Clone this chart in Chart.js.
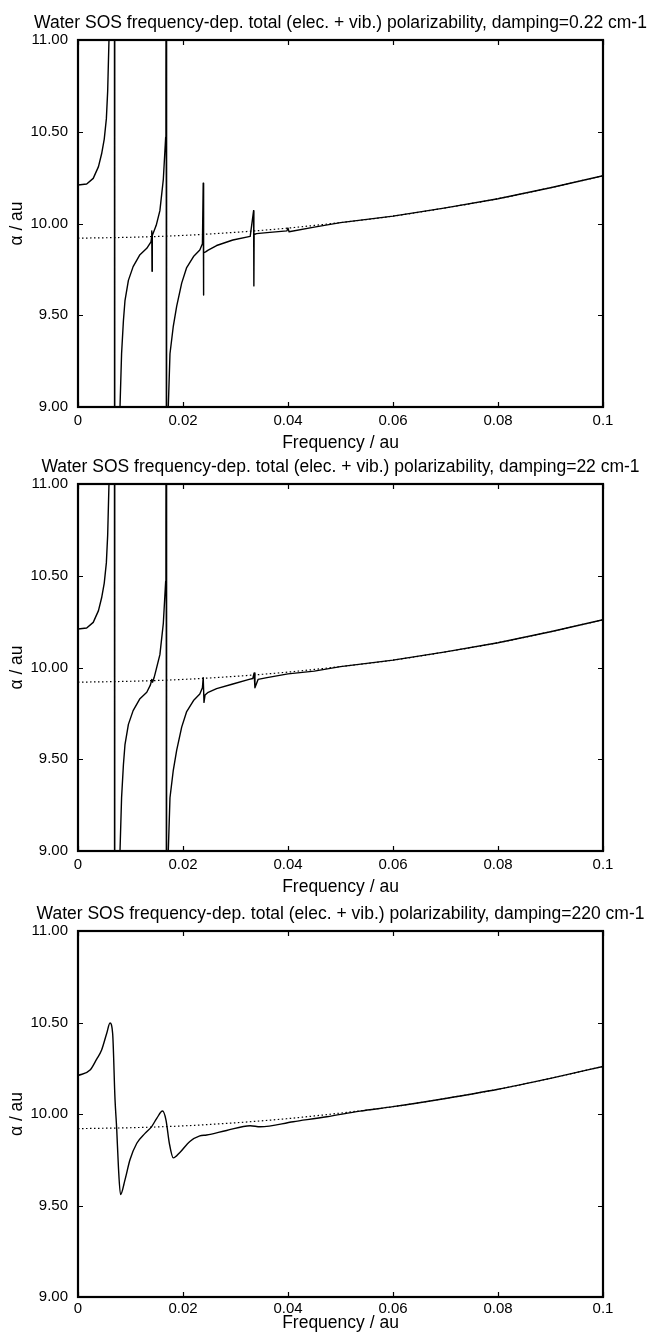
<!DOCTYPE html>
<html>
<head>
<meta charset="utf-8">
<script src="https://cdn.jsdelivr.net/npm/chart.js@4.4.0/dist/chart.umd.min.js"></script>
<style>
  html, body { margin: 0; padding: 0; background: #fff; overflow: hidden; }
  #wrap { position: relative; width: 650px; height: 1336px; }
  canvas { position: absolute; left: 0; }
</style>
</head>
<body>
<div id="wrap">
  <canvas id="p1" width="650" height="454" style="top:0px"></canvas>
  <canvas id="p2" width="650" height="454" style="top:444px"></canvas>
  <canvas id="p3" width="650" height="443" style="top:891px"></canvas>
</div>
<script>
// axis ticks
const xTickValues = [0, 0.02, 0.04, 0.06, 0.08, 0.1];
const xTickLabels = ['0', '0.02', '0.04', '0.06', '0.08', '0.1'];
const yTickValues = [9, 9.5, 10, 10.5, 11];
const yTickLabels = ['9.00', '9.50', '10.00', '10.50', '11.00'];

const titles = [
  'Water SOS frequency-dep. total (elec. + vib.) polarizability, damping=0.22 cm-1',
  'Water SOS frequency-dep. total (elec. + vib.) polarizability, damping=22 cm-1',
  'Water SOS frequency-dep. total (elec. + vib.) polarizability, damping=220 cm-1'
];

// electronic-only polarizability (dotted), same in all panels
const elecFreq  = [0, 0.01, 0.02, 0.03, 0.04, 0.05, 0.06, 0.07, 0.08, 0.09, 0.1];
const elecAlpha = [9.92, 9.925, 9.935, 9.952, 9.975, 10.005, 10.04, 10.085, 10.135, 10.195, 10.26];

// damping 0.22 cm-1 (values beyond 9..11 are where the curve leaves the frame)
const freq1 = [0, 0.00165, 0.0029, 0.0039, 0.0045, 0.0050, 0.0054, 0.00565, 0.0059, 0.0064, 0.00692, 0.0070,
  0.0079, 0.0080, 0.0083, 0.00865, 0.00895, 0.0096, 0.0105, 0.0118, 0.0131, 0.0139, 0.01400, 0.01405,
  0.01410, 0.01415, 0.0149, 0.0156, 0.01625, 0.0167, 0.01675, 0.0168, 0.01685, 0.0169, 0.0171, 0.0172,
  0.01752, 0.01815, 0.0188, 0.01975, 0.0207, 0.0220, 0.0232, 0.0237, 0.02385, 0.0239, 0.02395, 0.0243,
  0.0248, 0.0264, 0.0295, 0.0328, 0.03345, 0.0335, 0.03355, 0.0340, 0.0360, 0.0398, 0.0400, 0.0402,
  0.0450, 0.0500, 0.0600, 0.0700, 0.0800, 0.0900, 0.1000];
const alpha1 = [10.21, 10.215, 10.246, 10.31, 10.38, 10.46, 10.57, 10.72, 11.0, 12.5, 15, 4,
  8.5, 9.0, 9.29, 9.47, 9.58, 9.69, 9.765, 9.83, 9.865, 9.9, 9.92, 9.96,
  9.74, 9.935, 9.99, 10.07, 10.24, 10.47, 10.8, 12, 15, 4, 8.0, 9.0,
  9.29, 9.44, 9.55, 9.675, 9.76, 9.82, 9.855, 9.89, 10.22, 9.61, 9.84, 9.845,
  9.855, 9.88, 9.91, 9.93, 10.07, 9.66, 9.94, 9.945, 9.95, 9.96, 9.975, 9.955,
  9.98, 10.005, 10.04, 10.085, 10.135, 10.195, 10.26];

// damping 22 cm-1
const freq2 = [0, 0.00165, 0.0029, 0.0039, 0.0045, 0.0050, 0.0054, 0.00565, 0.0059, 0.0064, 0.00692, 0.0070,
  0.0079, 0.0080, 0.0083, 0.00865, 0.00895, 0.0096, 0.0105, 0.0118, 0.0131, 0.0138, 0.01405, 0.0142,
  0.0145, 0.0149, 0.0156, 0.01625, 0.0167, 0.01675, 0.0168, 0.01685, 0.0169, 0.0171, 0.0172, 0.01752,
  0.01815, 0.0188, 0.01975, 0.0207, 0.0220, 0.0232, 0.0237, 0.02385, 0.0240, 0.0242, 0.0248, 0.0264,
  0.0295, 0.0326, 0.0333, 0.03355, 0.0337, 0.0343, 0.0360, 0.0400, 0.0450, 0.0500, 0.0600, 0.0700,
  0.0800, 0.0900, 0.1000];
const alpha2 = [10.21, 10.215, 10.246, 10.31, 10.38, 10.46, 10.57, 10.72, 11.0, 12.5, 15, 4,
  8.5, 9.0, 9.29, 9.47, 9.58, 9.69, 9.765, 9.83, 9.865, 9.905, 9.935, 9.92,
  9.945, 9.99, 10.07, 10.24, 10.47, 10.8, 12, 15, 4, 8.0, 9.0, 9.29,
  9.44, 9.55, 9.675, 9.76, 9.82, 9.855, 9.89, 9.945, 9.81, 9.85, 9.865, 9.885,
  9.91, 9.935, 9.94, 9.97, 9.89, 9.935, 9.945, 9.965, 9.98, 10.005, 10.04, 10.085,
  10.135, 10.195, 10.26];

// damping 220 cm-1
const freq3 = [0, 0.0023, 0.00356, 0.0045, 0.00546, 0.0061, 0.0066, 0.00705, 0.00737, 0.0077,
  0.0081, 0.00895, 0.0099, 0.0112, 0.01276, 0.0140, 0.0150, 0.0161, 0.01676, 0.0174,
  0.01815, 0.0194, 0.0213, 0.0232, 0.0245, 0.0283, 0.0328, 0.0347, 0.0410, 0.0474,
  0.0537, 0.0600, 0.0700, 0.0800, 0.0900, 0.1000];
const alpha3 = [10.21, 10.24, 10.30, 10.35, 10.44, 10.497, 10.44, 10.08, 9.92, 9.71,
  9.56, 9.64, 9.75, 9.84, 9.894, 9.93, 9.976, 10.016, 9.967, 9.84,
  9.76, 9.79, 9.85, 9.88, 9.885, 9.91, 9.936, 9.93, 9.958, 9.985,
  10.016, 10.04, 10.085, 10.135, 10.195, 10.26];

const FONT = "'Liberation Sans', Arial, Helvetica, sans-serif";
Chart.defaults.font.family = FONT;
Chart.defaults.color = '#000';

const toPoints = (xs, ys) => xs.map((x, i) => ({ x: x, y: ys[i] }));

// frame, inward ticks and the title over the plot area
const framePlugin = {
  id: 'frame',
  afterDraw(chart, args, opts) {
    const { ctx, chartArea: a, scales: { x, y } } = chart;
    ctx.save();
    ctx.strokeStyle = '#000';
    ctx.lineWidth = 1.2;
    ctx.beginPath();
    xTickValues.forEach(v => {
      const px = Math.round(x.getPixelForValue(v)) + 0.5;
      ctx.moveTo(px, a.bottom); ctx.lineTo(px, a.bottom - 5);
      ctx.moveTo(px, a.top); ctx.lineTo(px, a.top + 5);
    });
    yTickValues.forEach(v => {
      const py = Math.round(y.getPixelForValue(v)) + 0.5;
      ctx.moveTo(a.left, py); ctx.lineTo(a.left + 5, py);
      ctx.moveTo(a.right, py); ctx.lineTo(a.right - 5, py);
    });
    ctx.stroke();
    ctx.lineWidth = 2.2;
    ctx.strokeRect(a.left, a.top, a.right - a.left, a.bottom - a.top);
    ctx.fillStyle = '#000';
    ctx.font = '17.5px ' + FONT;
    ctx.textAlign = 'center';
    ctx.textBaseline = 'alphabetic';
    ctx.fillText(opts.text, (a.left + a.right) / 2, a.top - 12.5);
    ctx.restore();
  }
};

function makePanel(id, freq, alpha, title, xAxisHeight, tickPad, smooth) {
  const curve = {
    data: toPoints(freq, alpha),
    borderColor: '#000',
    borderWidth: 1.4,
    pointRadius: 0,
    borderJoinStyle: 'round',
    tension: 0
  };
  if (smooth) curve.cubicInterpolationMode = 'monotone';
  new Chart(document.getElementById(id), {
    type: 'line',
    data: {
      datasets: [
        {
          data: toPoints(elecFreq, elecAlpha),
          borderColor: '#000',
          borderWidth: 1.2,
          borderDash: [1.5, 2.5],
          pointRadius: 0,
          cubicInterpolationMode: 'monotone'
        },
        curve
      ]
    },
    options: {
      responsive: false,
      animation: false,
      events: [],
      layout: { padding: { top: 40, right: 47, left: 0, bottom: 0 } },
      plugins: {
        legend: { display: false },
        tooltip: { enabled: false },
        frame: { text: title }
      },
      scales: {
        x: {
          type: 'linear',
          min: 0, max: 0.1,
          grid: { display: false, drawTicks: false },
          border: { display: false },
          afterBuildTicks: s => { s.ticks = xTickValues.map(v => ({ value: v })); },
          afterFit: s => { s.height = xAxisHeight; },
          ticks: {
            padding: tickPad, maxRotation: 0, autoSkip: false,
            font: { size: 15 },
            callback: (v, i) => xTickLabels[i]
          },
          title: {
            display: true, text: 'Frequency / au',
            font: { size: 17.5 }, padding: { top: 0, bottom: 0 }
          }
        },
        y: {
          type: 'linear',
          min: 9, max: 11,
          grid: { display: false, drawTicks: false },
          border: { display: false },
          afterBuildTicks: s => { s.ticks = yTickValues.map(v => ({ value: v })); },
          afterFit: s => { s.width = 78; },
          ticks: {
            padding: 10, font: { size: 15 },
            callback: (v, i) => yTickLabels[i]
          },
          title: {
            display: true, text: 'α / au',
            font: { size: 17.5 }, padding: { top: 7, bottom: 0 }
          }
        }
      }
    },
    plugins: [framePlugin]
  });
}

makePanel('p1', freq1, alpha1, titles[0], 47, 5, false);
makePanel('p2', freq2, alpha2, titles[1], 47, 5, false);
makePanel('p3', freq3, alpha3, titles[2], 37, 3, true);
</script>
</body>
</html>
